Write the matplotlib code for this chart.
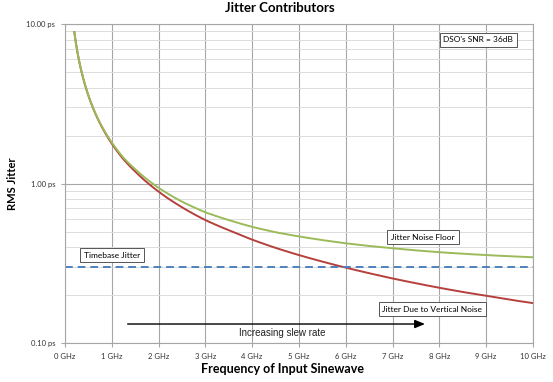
import numpy as np
import matplotlib
matplotlib.use('Agg')
import matplotlib.pyplot as plt
from matplotlib.ticker import FixedLocator, LogLocator, NullFormatter

# frequency of input sinewave (GHz)
freq_ghz = [0.2, 0.3, 0.4, 0.5, 0.6, 0.8, 1.0, 1.25, 1.5, 2.0, 2.5, 3.0, 3.5,
            4.0, 4.5, 5.0, 5.5, 6.0, 6.5, 7.0, 7.5, 8.0, 8.5, 9.0, 9.5, 10.0]
# jitter due to vertical noise (ps)
vertical_jitter = [8.9, 5.9, 4.45, 3.56, 2.97, 2.23, 1.78, 1.42, 1.19, 0.89,
                   0.71, 0.59, 0.51, 0.445, 0.395, 0.356, 0.324, 0.297, 0.274,
                   0.254, 0.237, 0.222, 0.209, 0.198, 0.187, 0.178]
# jitter noise floor (ps)
noise_floor = [8.9, 5.91, 4.46, 3.57, 2.98, 2.25, 1.81, 1.45, 1.23, 0.94,
               0.77, 0.66, 0.59, 0.535, 0.495, 0.466, 0.442, 0.422, 0.406,
               0.393, 0.381, 0.371, 0.363, 0.356, 0.35, 0.345]
timebase_jitter = 0.3

x_ticks = list(range(0, 11))
x_labels = ['{} GHz'.format(i) for i in x_ticks]
y_ticks = [0.1, 1.0, 10.0]
y_labels = ['0.10 ps', '1.00 ps', '10.00 ps']


def smooth(xs, ys):
    # excel-style smoothed line: interpolate in log-log space for drawing
    lx = np.log(xs)
    fine = np.linspace(lx[0], lx[-1], 400)
    return np.exp(fine), np.exp(np.interp(fine, lx, np.log(ys)))


plt.rcParams['font.family'] = ['Lato', 'DejaVu Sans']

fig = plt.figure(figsize=(5.53, 3.82), dpi=100)
ax = fig.add_axes([0.1175, 0.102, 0.8463, 0.835])

ax.set_yscale('log')
ax.set_xlim(0, 10)
ax.set_ylim(0.1, 10)

ax.xaxis.set_major_locator(FixedLocator(x_ticks))
ax.set_xticklabels(x_labels)
ax.yaxis.set_major_locator(FixedLocator(y_ticks))
ax.set_yticklabels(y_labels)
ax.yaxis.set_minor_locator(LogLocator(base=10, subs=np.arange(2, 10)))
ax.yaxis.set_minor_formatter(NullFormatter())

ax.grid(True, which='major', color='#a6a6a6', linewidth=0.8)
ax.grid(True, which='minor', axis='y', color='#dcdcdc', linewidth=0.7)
ax.set_axisbelow(True)
for sp in ax.spines.values():
    sp.set_color('#a6a6a6')
    sp.set_linewidth(0.8)

ax.tick_params(axis='both', which='major', labelsize=5.5, colors='#a6a6a6',
               labelcolor='#333333', length=3, width=0.8, pad=4)
ax.tick_params(axis='y', which='minor', length=0)

ax.plot(*smooth(freq_ghz, vertical_jitter), color='#b5403c', linewidth=1.4)
ax.plot(*smooth(freq_ghz, noise_floor), color='#9bbb59', linewidth=1.4)
ax.axhline(timebase_jitter, color='#4f81bd', linewidth=1.4, linestyle=(0, (4, 2.5)))

box = dict(boxstyle='square,pad=0.45', facecolor='white', edgecolor='#555555', linewidth=0.7)
ax.text(8.83, 7.95, "DSO's SNR = 36dB", fontsize=6, ha='center', va='center', bbox=box)
ax.text(1.0, 0.356, 'Timebase Jitter', fontsize=6, ha='center', va='center', bbox=box)
ax.text(7.65, 0.462, 'Jitter Noise Floor', fontsize=6, ha='center', va='center', bbox=box)
ax.text(7.85, 0.163, 'Jitter Due to Vertical Noise', fontsize=6, ha='center', va='center', bbox=box)

ax.annotate('', xy=(7.75, 0.1316), xytext=(1.28, 0.1316),
            arrowprops=dict(arrowstyle='-|>,head_length=0.6,head_width=0.25',
                            color='black', linewidth=1.0))
ax.text(4.64, 0.1155, 'Increasing slew rate', fontsize=7, ha='center', va='center',
        family=['Liberation Sans', 'DejaVu Sans'], color='#222222')

ax.set_title('Jitter Contributors', fontsize=9.5, fontweight='bold', pad=9, x=0.46)
ax.set_xlabel('Frequency of Input Sinewave', fontsize=9, fontweight='bold')
ax.set_ylabel('RMS Jitter', fontsize=8, fontweight='bold')
ax.xaxis.set_label_coords(0.465, -0.063)
ax.yaxis.set_label_coords(-0.1, 0.5)

fig.savefig('out.png', dpi=100)
